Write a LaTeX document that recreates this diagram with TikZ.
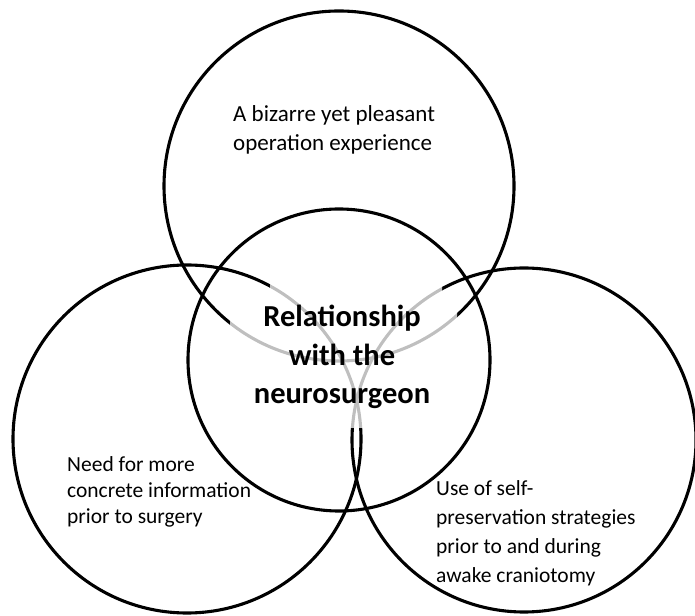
\documentclass[tikz,border=0pt]{standalone}
\usepackage{fontspec}
\setmainfont{Carlito}
\begin{document}
\begin{tikzpicture}[x=1pt,y=1pt,
  ring/.style={draw=black,line width=3.1pt},
  faint/.style={draw=black!25,line width=3.1pt},
  lbl/.style={inner sep=0pt,align=left,font=\fontsize{21.5}{29}\selectfont},
  core/.style={inner sep=0pt,align=center,font=\fontsize{30.5}{38.5}\selectfont\bfseries}]
\useasboundingbox (0,0) rectangle (695,615);
\coordinate (T) at (339,429);
\coordinate (L) at (187,176);
\coordinate (R) at (524,175);
\coordinate (C) at (339,255);
\begin{scope}[even odd rule]
  \clip (-10,-10) rectangle (705,625) (230,315) -- (270,315) -- (270,340) -- (442,340) -- (442,315) -- (457,315)
        -- (457,215) -- (400,187) -- (330,187) -- (230,215) -- cycle;
  \draw[ring] (T) circle[radius=175];
  \draw[ring] (L) circle[radius=174];
  \draw[ring] (R) circle[radius=172];
\end{scope}
\begin{scope}
  \clip (230,315) -- (270,315) -- (270,340) -- (442,340) -- (442,315) -- (457,315)
        -- (457,215) -- (400,187) -- (330,187) -- (230,215) -- cycle;
  \draw[faint] (T) circle[radius=175];
  \draw[faint] (L) circle[radius=174];
  \draw[faint] (R) circle[radius=172];
\end{scope}
\draw[ring] (C) circle[radius=151];
\node[lbl,anchor=north west,font=\fontsize{23}{29}\selectfont] (ttop) at (233,510) {A bizarre yet pleasant\\operation experience};
\node[lbl,anchor=north west,font=\fontsize{21.5}{26}\selectfont] (tleft) at (67,159) {Need for more\\concrete information\\prior to surgery};
\node[lbl,anchor=north west] (tright) at (436,135) {Use of self-\\preservation strategies\\prior to and during\\awake craniotomy};
\node[core] (tcore) at (342,258) {Relationship\\with the\\neurosurgeon};
\end{tikzpicture}
\end{document}
